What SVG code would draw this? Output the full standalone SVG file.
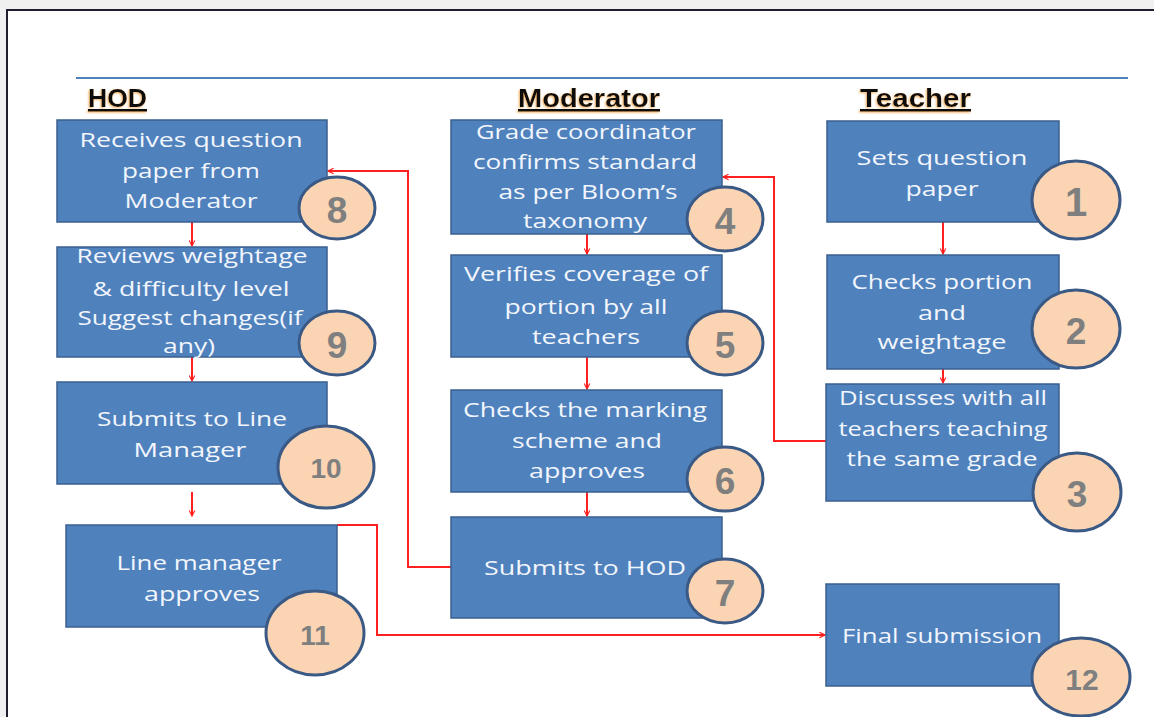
<svg xmlns="http://www.w3.org/2000/svg" width="1154" height="717" viewBox="0 0 1154 717">
<style>
.box{fill:#4F81BD;stroke:#3A5F8E;stroke-width:1.5}
.num{fill:#FAD4B3;stroke:#3A5A85;stroke-width:3}
.t{font-family:"Open Sans","Liberation Sans",Arial,sans-serif;font-size:20px;fill:#F2F6FC;text-anchor:middle;dominant-baseline:central}
.n{font-family:"Liberation Sans",Arial,sans-serif;font-weight:bold;fill:#7F7F7F;text-anchor:middle;dominant-baseline:central}
.h{font-family:"Liberation Sans",Arial,sans-serif;font-weight:bold;font-size:26px;fill:#111;text-decoration:underline}
.c{fill:none;stroke:#FF2020;stroke-width:2}
</style>
<defs>
<marker id="ah" viewBox="0 0 10 10" refX="9" refY="5" markerWidth="7" markerHeight="7" orient="auto" markerUnits="userSpaceOnUse">
<path d="M1,1 L9,5 L1,9" fill="none" stroke="#FF2020" stroke-width="1.6"/>
</marker>
<filter id="glow" x="-10%" y="-20%" width="120%" height="140%">
<feDropShadow dx="-1" dy="1" stdDeviation="0.8" flood-color="#F0A040" flood-opacity="0.8"/>
</filter>
</defs>
<rect x="0" y="0" width="1154" height="717" fill="#F0F0F0"/>
<rect x="7" y="10" width="1160" height="720" fill="#FFFFFF" stroke="#1E1E2E" stroke-width="2"/>
<line x1="76" y1="78" x2="1128" y2="78" stroke="#4F81BD" stroke-width="2"/>
<g id="headings" filter="url(#glow)">
<text class="h" x="88" y="107" textLength="59" lengthAdjust="spacingAndGlyphs">HOD</text>
<text class="h" x="518" y="107" textLength="142" lengthAdjust="spacingAndGlyphs">Moderator</text>
<text class="h" x="860" y="107" textLength="111" lengthAdjust="spacingAndGlyphs">Teacher</text>
</g>
<g id="connectors">
<line class="c" x1="192" y1="222" x2="192" y2="246" marker-end="url(#ah)"/>
<line class="c" x1="192" y1="357" x2="192" y2="381" marker-end="url(#ah)"/>
<line class="c" x1="192" y1="492" x2="192" y2="516" marker-end="url(#ah)"/>
<polyline class="c" points="337,525 377,525 377,635 825,635" marker-end="url(#ah)"/>
<line class="c" x1="587" y1="234" x2="587" y2="254" marker-end="url(#ah)"/>
<line class="c" x1="587" y1="357" x2="587" y2="389" marker-end="url(#ah)"/>
<line class="c" x1="587" y1="492" x2="587" y2="516" marker-end="url(#ah)"/>
<polyline class="c" points="451,567 408,567 408,171 328,171" marker-end="url(#ah)"/>
<line class="c" x1="943" y1="222" x2="943" y2="254" marker-end="url(#ah)"/>
<line class="c" x1="943" y1="369" x2="943" y2="383" marker-end="url(#ah)"/>
<polyline class="c" points="826,441 774,441 774,177 723,177" marker-end="url(#ah)"/>
</g>
<g id="n1">
<rect class="box" x="827" y="121" width="232" height="101"/>
<text class="t" x="942" y="157" textLength="171" lengthAdjust="spacingAndGlyphs">Sets question</text>
<text class="t" x="942" y="188" textLength="73" lengthAdjust="spacingAndGlyphs">paper</text>
<ellipse class="num" cx="1076" cy="200" rx="44" ry="39"/>
<text class="n" x="1076" y="202" font-size="40">1</text>
</g>
<g id="n2">
<rect class="box" x="827" y="255" width="232" height="114"/>
<text class="t" x="942" y="281" textLength="181" lengthAdjust="spacingAndGlyphs">Checks portion</text>
<text class="t" x="942" y="312" textLength="48" lengthAdjust="spacingAndGlyphs">and</text>
<text class="t" x="942" y="341" textLength="129" lengthAdjust="spacingAndGlyphs">weightage</text>
<ellipse class="num" cx="1076" cy="329" rx="44" ry="39"/>
<text class="n" x="1076" y="331" font-size="37">2</text>
</g>
<g id="n3">
<rect class="box" x="826" y="384" width="233" height="117"/>
<text class="t" x="943" y="397" textLength="208" lengthAdjust="spacingAndGlyphs">Discusses with all</text>
<text class="t" x="943" y="428" textLength="209" lengthAdjust="spacingAndGlyphs">teachers teaching</text>
<text class="t" x="942" y="458" textLength="191" lengthAdjust="spacingAndGlyphs">the same grade</text>
<ellipse class="num" cx="1077" cy="492" rx="44" ry="39"/>
<text class="n" x="1077" y="494" font-size="37">3</text>
</g>
<g id="n4">
<rect class="box" x="451" y="120" width="271" height="114"/>
<text class="t" x="586" y="131" textLength="220" lengthAdjust="spacingAndGlyphs">Grade coordinator</text>
<text class="t" x="585" y="161" textLength="224" lengthAdjust="spacingAndGlyphs">confirms  standard</text>
<text class="t" x="588" y="191" textLength="179" lengthAdjust="spacingAndGlyphs">as per Bloom’s</text>
<text class="t" x="585" y="220" textLength="124" lengthAdjust="spacingAndGlyphs">taxonomy</text>
<ellipse class="num" cx="725" cy="219" rx="38" ry="32"/>
<text class="n" x="725" y="221" font-size="37">4</text>
</g>
<g id="n5">
<rect class="box" x="451" y="255" width="271" height="102"/>
<text class="t" x="586" y="273" textLength="244" lengthAdjust="spacingAndGlyphs">Verifies coverage of</text>
<text class="t" x="586" y="306" textLength="163" lengthAdjust="spacingAndGlyphs">portion by all</text>
<text class="t" x="586" y="336" textLength="108" lengthAdjust="spacingAndGlyphs">teachers</text>
<ellipse class="num" cx="725" cy="343" rx="38" ry="32"/>
<text class="n" x="725" y="345" font-size="37">5</text>
</g>
<g id="n6">
<rect class="box" x="451" y="390" width="271" height="102"/>
<text class="t" x="585" y="409" textLength="244" lengthAdjust="spacingAndGlyphs">Checks the marking</text>
<text class="t" x="587" y="440" textLength="150" lengthAdjust="spacingAndGlyphs">scheme and</text>
<text class="t" x="587" y="470" textLength="116" lengthAdjust="spacingAndGlyphs">approves</text>
<ellipse class="num" cx="725" cy="479" rx="38" ry="32"/>
<text class="n" x="725" y="481" font-size="37">6</text>
</g>
<g id="n7">
<rect class="box" x="451" y="517" width="271" height="101"/>
<text class="t" x="585" y="567" textLength="202" lengthAdjust="spacingAndGlyphs">Submits to HOD</text>
<ellipse class="num" cx="725" cy="591" rx="38" ry="32"/>
<text class="n" x="725" y="593" font-size="37">7</text>
</g>
<g id="n8">
<rect class="box" x="57" y="120" width="270" height="102"/>
<text class="t" x="191" y="139" textLength="223" lengthAdjust="spacingAndGlyphs">Receives question</text>
<text class="t" x="191" y="170" textLength="138" lengthAdjust="spacingAndGlyphs">paper from</text>
<text class="t" x="191" y="200" textLength="133" lengthAdjust="spacingAndGlyphs">Moderator</text>
<ellipse class="num" cx="337" cy="208" rx="38" ry="31"/>
<text class="n" x="337" y="210" font-size="37">8</text>
</g>
<g id="n9">
<rect class="box" x="57" y="247" width="270" height="110"/>
<text class="t" x="192" y="255" textLength="231" lengthAdjust="spacingAndGlyphs">Reviews weightage</text>
<text class="t" x="191" y="288" textLength="197" lengthAdjust="spacingAndGlyphs">&amp; difficulty level</text>
<text class="t" x="190" y="317" textLength="225" lengthAdjust="spacingAndGlyphs">Suggest changes(if</text>
<text class="t" x="189" y="345" textLength="52" lengthAdjust="spacingAndGlyphs">any)</text>
<ellipse class="num" cx="337" cy="343" rx="38" ry="32"/>
<text class="n" x="337" y="345" font-size="37">9</text>
</g>
<g id="n10">
<rect class="box" x="57" y="382" width="270" height="102"/>
<text class="t" x="192" y="418" textLength="190" lengthAdjust="spacingAndGlyphs">Submits to Line</text>
<text class="t" x="190" y="449" textLength="113" lengthAdjust="spacingAndGlyphs">Manager</text>
<ellipse class="num" cx="326" cy="467" rx="48" ry="41"/>
<text class="n" x="326" y="468" font-size="28">10</text>
</g>
<g id="n11">
<rect class="box" x="66" y="525" width="271" height="102"/>
<text class="t" x="199" y="562" textLength="165" lengthAdjust="spacingAndGlyphs">Line manager</text>
<text class="t" x="202" y="593" textLength="116" lengthAdjust="spacingAndGlyphs">approves</text>
<ellipse class="num" cx="315" cy="633" rx="49" ry="42"/>
<text class="n" x="315" y="635" font-size="28">11</text>
</g>
<g id="n12">
<rect class="box" x="826" y="584" width="233" height="102"/>
<text class="t" x="942" y="635" textLength="200" lengthAdjust="spacingAndGlyphs">Final submission</text>
<ellipse class="num" cx="1081" cy="677" rx="49" ry="39"/>
<text class="n" x="1082" y="679" font-size="30">12</text>
</g>
</svg>
